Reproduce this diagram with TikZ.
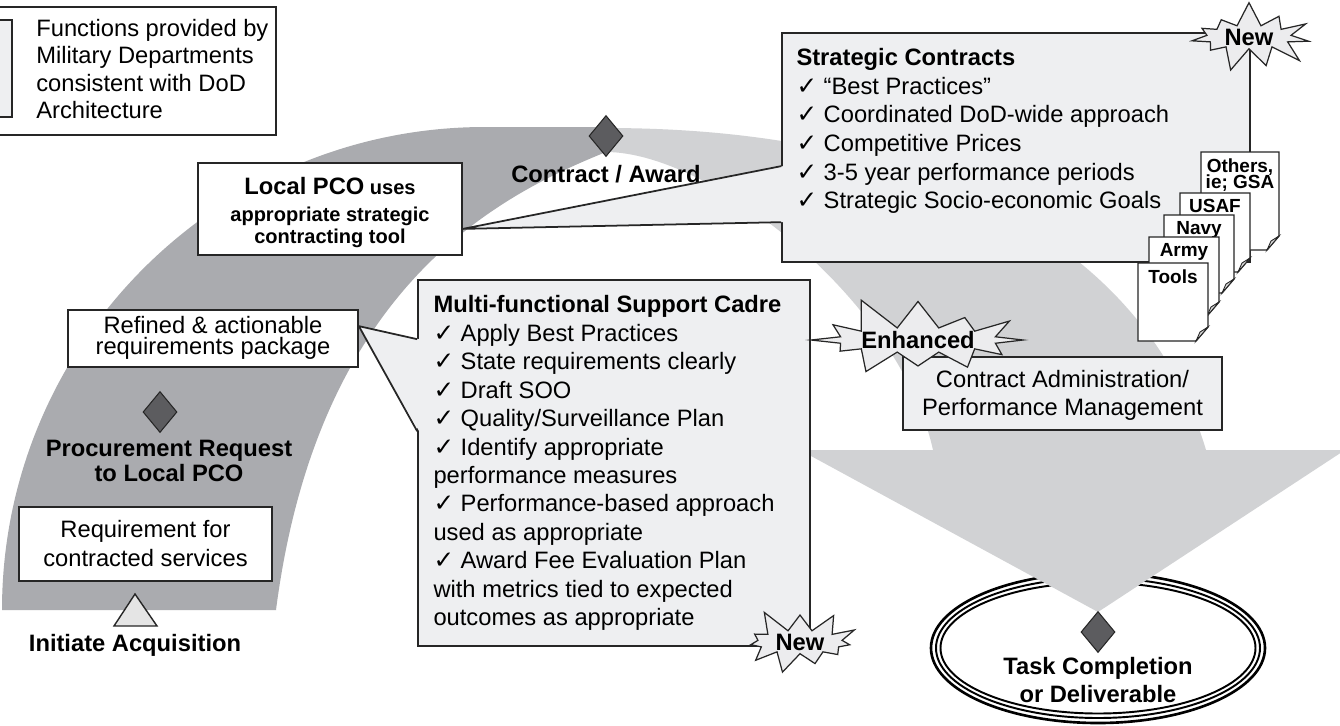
\documentclass[tikz,border=0pt]{standalone}
\usepackage{fontspec}
\setmainfont{Liberation Sans}
\newfontfamily\symfont{DejaVu Sans}
\usetikzlibrary{shapes.geometric,shapes.symbols,calc,positioning}

\definecolor{bandDark}{RGB}{170,171,175}
\definecolor{bandLight}{RGB}{209,210,212}
\definecolor{boxFill}{RGB}{238,239,241}
\definecolor{markFill}{RGB}{92,92,95}
\definecolor{starFill}{RGB}{236,236,238}
\newcommand{\chk}{{\symfont\fontsize{14}{14}\selectfont ✓}\ }

\begin{document}
\begin{tikzpicture}[x=0.02cm, y=-0.02cm,
		plainbox/.style={draw=black!85, fill=white, line width=1pt, inner sep=0pt},
		callbox/.style={draw=black!85, fill=boxFill, line width=1pt, inner sep=0pt},
		callline/.style={draw=black!85, line width=1pt, line join=miter},
		milestone/.style={diamond, draw=black!85, fill=markFill, minimum width=0.68cm, minimum height=0.82cm, inner sep=0pt, line width=0.6pt},
		label/.style={font=\bfseries\fontsize{13.5}{14.2}\selectfont, align=center, inner sep=0pt},
		body/.style={font=\fontsize{13.5}{16.2}\selectfont, align=left, inner sep=0pt},
		burst/.style={starburst, starburst points=11, starburst point height=0.5cm, draw=black!85, fill=starFill, line width=0.7pt, inner sep=0pt, font=\bfseries\fontsize{13.5}{14}\selectfont},
		docsheet/.style={draw=black!85, fill=white, line width=0.8pt, line join=miter},
		doctext/.style={font=\bfseries\fontsize{10.8}{9.6}\selectfont, align=center, inner sep=0pt}]

	\clip (0,0) rectangle (1340,725);
	\fill[white] (0,0) rectangle (1340,725);

	% ring round the deliverable
	\draw[line width=1.5pt] (1098,648) ellipse [x radius=167, y radius=75];
	\draw[line width=1.1pt] (1098,648) ellipse [x radius=162, y radius=70];
	\draw[line width=1.1pt] (1098,648) ellipse [x radius=157.5, y radius=65.5];

	% light band with the arrow head
	\fill[bandLight] (606,128) .. controls (950,128) and (1150,260) .. (1206,450)
		-- (1345,450) -- (1098,612) -- (800,450) -- (933,450)
		.. controls (900,300) and (710,152) .. (606,152) -- cycle;
	% dark band
	\fill[bandDark] (2,610) arc[start angle=180, end angle=270, radius=483] -- (606,127)
		-- (606,152) .. controls (500,195) and (318,285) .. (276,610) -- cycle;

	% legend
	\node[plainbox, minimum width=5.8cm, minimum height=2.56cm, anchor=north east] (legend) at (277,6) {};
	\node[callbox, minimum width=0.5cm, minimum height=1.94cm, anchor=north east] (swatch) at (13,19) {};
	\node[body, font=\fontsize{13.5}{15.5}\selectfont, anchor=north west] (legendtext) at (36,19)
		{Functions provided by\\Military Departments\\consistent with DoD\\Architecture};

	% boxes on the band
	\node[plainbox, minimum width=5.28cm, minimum height=1.84cm] (pco) at (330,209) {};
	\node[label, font=\bfseries\fontsize{11.4}{12.5}\selectfont, below=0.29cm of pco.north] (pcotext)
		{{\fontsize{13.5}{12.5}\selectfont Local PCO} uses\\[3pt]appropriate strategic\\contracting tool};

	\node[plainbox, minimum width=5.8cm, minimum height=1.14cm] (refined) at (213,338.5) {};
	\node[body, align=center, font=\fontsize{13.5}{12}\selectfont, below=0.14cm of refined.north] (refinedtext)
		{Refined \& actionable\\requirements package};

	\node[plainbox, minimum width=5.06cm, minimum height=1.48cm] (require) at (145.5,544) {};
	\node[body, align=center, below=0.28cm of require.north] (requiretext)
		{Requirement for\\contracted services};

	% milestones
	\node[milestone] (request) at (160,412) {};
	\node[label, anchor=north] (requesttext) at (169,440) {Procurement Request\\to Local PCO};

	\node[milestone] (award) at (606,136) {};
	\node[label, below=0.15cm of award] (awardtext) {Contract / Award};

	\filldraw[fill=black!10, draw=black!85, line width=0.8pt, line join=miter] (114,626) -- (135,594) -- (157,626) -- cycle;
	\node[label, anchor=north] (initiate) at (135,634) {Initiate Acquisition};

	% strategic contracts callout
	\node[callbox, minimum width=9.36cm, minimum height=4.58cm] (strat) at (1016,147.5) {};
	\coordinate (stratTip) at ($(pco.south east)+(0,-27)$);
	\fill[boxFill] ($(strat.north west)+(2,134)$) -- (stratTip) -- ($(strat.north west)+(2,190)$) -- cycle;
	\draw[callline] ($(strat.north west)+(0,134)$) -- (stratTip) -- ($(strat.north west)+(0,190)$);
	\node[body, font=\fontsize{13.5}{16.3}\selectfont, below right=0.32cm and 0.3cm of strat.north west] (strattext)
		{\textbf{Strategic Contracts}\\
		\chk “Best Practices”\\
		\chk Coordinated DoD-wide approach\\
		\chk Competitive Prices\\
		\chk 3-5 year performance periods\\
		\chk Strategic Socio-economic Goals};

	% tool sheets
	\foreach \nm/\l/\t/\r/\b/\txt in {others/1201/152/1279/250/{Others,\\ie; GSA},
			usaf/1180/193/1250/272/USAF, navy/1164/215/1234/293/Navy,
			army/1149/237/1219/316/Army, tools/1138/263/1208/341/Tools}{
		\filldraw[docsheet] (\l,\t) -- (\r,\t) -- (\r,\b-14) -- (\r-12,\b) -- (\l,\b) -- cycle;
		\filldraw[fill=black!15, draw=black!85, line width=0.5pt] (\r,\b-14) -- (\r-12,\b) -- (\r-8,\b-9) -- cycle;
		\node[doctext, anchor=north] (\nm) at ({(\l+\r)/2},\t+6) {\txt};
	}

	% support cadre callout
	\node[callbox, minimum width=7.84cm, minimum height=7.32cm] (cadre) at (614,463) {};
	\coordinate (cadreTip) at ($(refined.north east)+(0,17)$);
	\fill[boxFill] ($(cadre.north west)+(2,60)$) -- (cadreTip) -- ($(cadre.north west)+(2,152)$) -- cycle;
	\draw[callline] ($(cadre.north west)+(0,60)$) -- (cadreTip) -- ($(cadre.north west)+(0,152)$);
	\node[body, below right=0.32cm and 0.32cm of cadre.north west] (cadretext)
		{\textbf{Multi-functional Support Cadre}\\
		\chk Apply Best Practices\\
		\chk State requirements clearly\\
		\chk Draft SOO\\
		\chk Quality/Surveillance Plan\\
		\chk Identify appropriate\\
		performance measures\\
		\chk Performance-based approach\\
		used as appropriate\\
		\chk Award Fee Evaluation Plan\\
		with metrics tied to expected\\
		outcomes as appropriate};

	% contract administration
	\node[callbox, minimum width=6.38cm, minimum height=1.46cm] (admin) at (1062.5,393.5) {};
	\node[body, align=center, font=\fontsize{13.5}{15.9}\selectfont, below=0.28cm of admin.north] (admintext)
		{Contract Administration/\\Performance Management};

	% deliverable
	\node[milestone] (task) at (1098,632) {};
	\node[label, font=\bfseries\fontsize{13.5}{15.9}\selectfont, below=0.07cm of task] (tasktext) {Task Completion\\or Deliverable};

	% bursts
	\node[burst, minimum width=2.7cm, minimum height=1.35cm, random starburst=7] (newTop) at (1249,37) {New};
	\node[burst, minimum width=4.1cm, minimum height=1.9cm, starburst point height=0.7cm, starburst points=12, random starburst=11] (enhanced) at (918,340) {Enhanced};
	\node[burst, minimum width=2.7cm, minimum height=1.25cm, random starburst=5] (newLow) at (800,642) {New};
\end{tikzpicture}
\end{document}
